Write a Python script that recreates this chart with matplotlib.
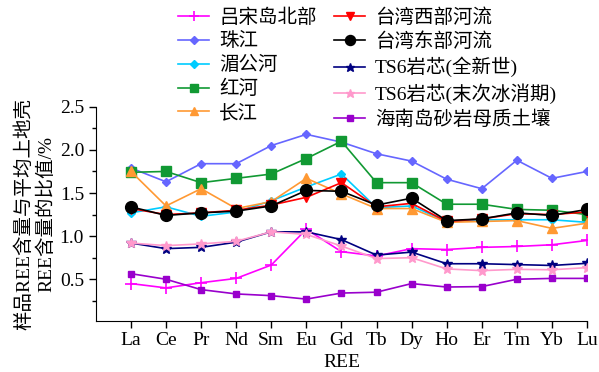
import matplotlib
matplotlib.use("Agg")
import matplotlib.pyplot as plt
from matplotlib.ticker import MultipleLocator

plt.rcParams['font.family'] = ['Liberation Serif', 'Noto Sans CJK SC']
plt.rcParams['axes.unicode_minus'] = False

ree = ["La", "Ce", "Pr", "Nd", "Sm", "Eu", "Gd", "Tb", "Dy", "Ho", "Er", "Tm", "Yb", "Lu"]

luzon = [0.45, 0.40, 0.46, 0.51, 0.665, 1.08, 0.82, 0.77, 0.855, 0.845, 0.87, 0.88, 0.90, 0.95]
pearl = [1.79, 1.63, 1.84, 1.84, 2.05, 2.18, 2.09, 1.955, 1.87, 1.66, 1.55, 1.88, 1.67, 1.75]
mekong = [1.27, 1.34, 1.23, 1.28, 1.41, 1.57, 1.72, 1.33, 1.35, 1.17, 1.19, 1.19, 1.19, 1.16]
red_river = [1.74, 1.75, 1.62, 1.67, 1.72, 1.90, 2.10, 1.62, 1.62, 1.37, 1.37, 1.31, 1.30, 1.25]
yangtze = [1.75, 1.35, 1.55, 1.32, 1.40, 1.67, 1.49, 1.32, 1.32, 1.16, 1.17, 1.18, 1.09, 1.15]
tw_west = [1.32, 1.25, 1.27, 1.30, 1.36, 1.45, 1.62, 1.34, 1.38, 1.17, 1.20, 1.26, 1.25, 1.28]
tw_east = [1.34, 1.24, 1.27, 1.29, 1.35, 1.53, 1.52, 1.36, 1.44, 1.18, 1.20, 1.27, 1.24, 1.31]
ts6_holo = [0.92, 0.855, 0.87, 0.93, 1.05, 1.05, 0.96, 0.78, 0.815, 0.68, 0.68, 0.67, 0.66, 0.685]
ts6_degl = [0.92, 0.89, 0.91, 0.94, 1.05, 1.02, 0.885, 0.74, 0.75, 0.62, 0.60, 0.615, 0.61, 0.635]
hainan = [0.565, 0.50, 0.38, 0.33, 0.31, 0.27, 0.34, 0.35, 0.45, 0.41, 0.415, 0.50, 0.51, 0.51]

labels = ["吕宋岛北部", "珠江", "湄公河", "红河", "长江",
          "台湾西部河流", "台湾东部河流", "TS6岩芯(全新世)", "TS6岩芯(末次冰消期)", "海南岛砂岩母质土壤"]

fig = plt.figure(figsize=(5.99, 3.72), dpi=100)
ax = fig.add_axes([0.160, 0.138, 0.820, 0.575])

x = list(range(len(ree)))
styles = [
    (luzon, "#FF00FF", "+", 8, 1.2),
    (pearl, "#6666FF", "D", 4.5, 1.0),
    (mekong, "#00CCFF", "D", 4.5, 1.0),
    (red_river, "#119933", "s", 6.5, 1.0),
    (yangtze, "#FF9933", "^", 6.5, 1.0),
    (tw_west, "#FF0000", "v", 6.5, 1.0),
    (tw_east, "#000000", "o", 8.5, 1.0),
    (ts6_holo, "#000080", "*", 7.5, 1.0),
    (ts6_degl, "#FF99CC", "*", 7.5, 1.0),
    (hainan, "#9900CC", "s", 5, 1.0),
]
handles = []
for (vals, c, m, ms, mew), lab in zip(styles, labels):
    h, = ax.plot(x, vals, color=c, marker=m, markersize=ms, markeredgewidth=mew,
                 linewidth=1.2, label=lab)
    handles.append(h)

ax.set_xlim(-1, 13)
ax.set_ylim(0.02, 2.5)
ax.set_xticks(x)
ax.set_xticklabels(ree)
ax.yaxis.set_minor_locator(MultipleLocator(0.25))
ax.set_yticks([0.5, 1.0, 1.5, 2.0, 2.5])
ax.set_yticklabels(["0.5", "1.0", "1.5", "2.0", "2.5"])
ax.tick_params(axis='both', labelsize=14, direction='out', length=5, width=1)
ax.tick_params(axis='y', which='minor', direction='out', length=3, width=1)
for s in ["top", "right"]:
    ax.spines[s].set_visible(False)
ax.set_xlabel("REE", fontsize=14, labelpad=3)
ax.set_ylabel("样品REE含量与平均上地壳\nREE含量的比值/%", fontsize=14, linespacing=1.25, labelpad=3)

fig.legend(handles=handles, labels=labels, ncol=2, loc='upper left',
           bbox_to_anchor=(0.275, 1.015), frameon=False, fontsize=14,
           handlelength=1.6, handletextpad=0.5, columnspacing=0.9,
           labelspacing=0.3, borderpad=0.2, markerscale=0.85)

fig.savefig("out.png", dpi=100)
